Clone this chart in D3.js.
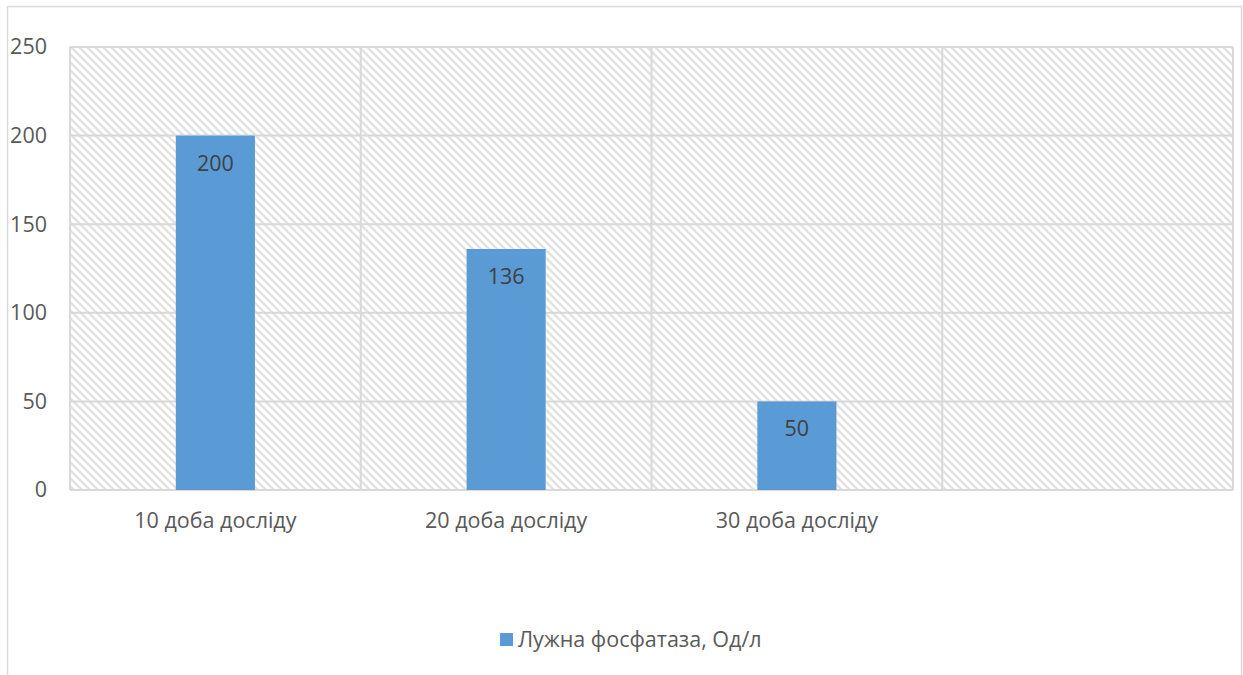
<!DOCTYPE html>
<html>
<head>
<meta charset="utf-8">
<script src="https://cdn.jsdelivr.net/npm/d3@7"></script>
<style>
  html, body { margin: 0; padding: 0; background: #fff; }
  svg { display: block; font-family: "Open Sans", "Noto Sans", sans-serif; }
</style>
</head>
<body>
<svg id="chart" width="1243" height="675"></svg>
<script>
// Alkaline phosphatase by day of experiment
const categories = ["10 доба досліду", "20 доба досліду", "30 доба досліду", ""];
const values = [200, 136, 50, null];
const yTicks = [0, 50, 100, 150, 200, 250];
const seriesName = "Лужна фосфатаза, Од/л";

const svg = d3.select("#chart");
const margin = { left: 70, top: 47, right: 1233, bottom: 490 };

const textColor = "#595959";
const gridColor = "#d9d9d9";
const barColor = "#5b9bd5";
const fontSize = 21.5;

// outer frame
svg.append("rect")
  .attr("x", 7.5).attr("y", 6.5)
  .attr("width", 1234).attr("height", 700)
  .attr("fill", "#fff").attr("stroke", gridColor).attr("stroke-width", 1.5);

// diagonal hatch for the plot area
const defs = svg.append("defs");
const pat = defs.append("pattern")
  .attr("id", "hatch").attr("patternUnits", "userSpaceOnUse")
  .attr("width", 8).attr("height", 8);
pat.append("rect").attr("width", 8).attr("height", 8).attr("fill", "#fff");
pat.append("path")
  .attr("d", "M-2,-2 L10,10 M-2,6 L2,10 M6,-2 L10,2")
  .attr("stroke", "#e2e2e2").attr("stroke-width", 2.4);

const x = d3.scaleBand().domain(categories.map((c, i) => i))
  .range([margin.left, margin.right]).paddingInner(0).paddingOuter(0);
const y = d3.scaleLinear().domain([0, 250]).range([margin.bottom, margin.top]);

svg.append("rect")
  .attr("x", margin.left).attr("y", margin.top)
  .attr("width", margin.right - margin.left).attr("height", margin.bottom - margin.top)
  .attr("fill", "url(#hatch)");

// horizontal gridlines
svg.append("g").selectAll("line").data(yTicks).join("line")
  .attr("x1", margin.left).attr("x2", margin.right)
  .attr("y1", d => y(d)).attr("y2", d => y(d))
  .attr("stroke", gridColor).attr("stroke-width", 2);

// vertical gridlines between categories
const vEdges = d3.range(categories.length + 1).map(i => margin.left + i * x.bandwidth());
svg.append("g").selectAll("line").data(vEdges).join("line")
  .attr("x1", d => d).attr("x2", d => d)
  .attr("y1", margin.top).attr("y2", margin.bottom)
  .attr("stroke", gridColor).attr("stroke-width", 2);

// y axis labels
const yAxis = d3.axisLeft(y).tickValues(yTicks).tickSize(0).tickPadding(23);
const gy = svg.append("g").attr("transform", `translate(${margin.left},0)`).call(yAxis);
gy.select(".domain").remove();
gy.selectAll("text").attr("fill", textColor).attr("font-size", fontSize)
  .attr("font-family", "\"Open Sans\", sans-serif");

// x axis labels
const xAxis = d3.axisBottom(x).tickFormat(i => categories[i]).tickSize(0).tickPadding(23);
const gx = svg.append("g").attr("transform", `translate(0,${margin.bottom})`).call(xAxis);
gx.select(".domain").remove();
gx.selectAll("text").attr("fill", textColor).attr("font-size", fontSize)
  .attr("font-family", "\"Open Sans\", sans-serif");

// bars
const barW = x.bandwidth() * 0.272;
const data = values.map((v, i) => ({ i, v })).filter(d => d.v != null);
svg.append("g").selectAll("rect").data(data).join("rect")
  .attr("x", d => x(d.i) + x.bandwidth() / 2 - barW / 2)
  .attr("y", d => y(d.v))
  .attr("width", barW)
  .attr("height", d => y(0) - y(d.v))
  .attr("fill", barColor);

// value labels inside bars
svg.append("g").selectAll("text").data(data).join("text")
  .attr("x", d => x(d.i) + x.bandwidth() / 2)
  .attr("y", d => y(d.v) + 35)
  .attr("text-anchor", "middle")
  .attr("fill", "#404040").attr("font-size", fontSize)
  .text(d => d.v);

// legend
const lg = svg.append("g").attr("transform", "translate(500,633)");
lg.append("rect").attr("width", 13).attr("height", 13).attr("fill", barColor);
lg.append("text").attr("x", 18).attr("y", 14)
  .attr("fill", textColor).attr("font-size", fontSize).text(seriesName);
</script>
</body>
</html>
